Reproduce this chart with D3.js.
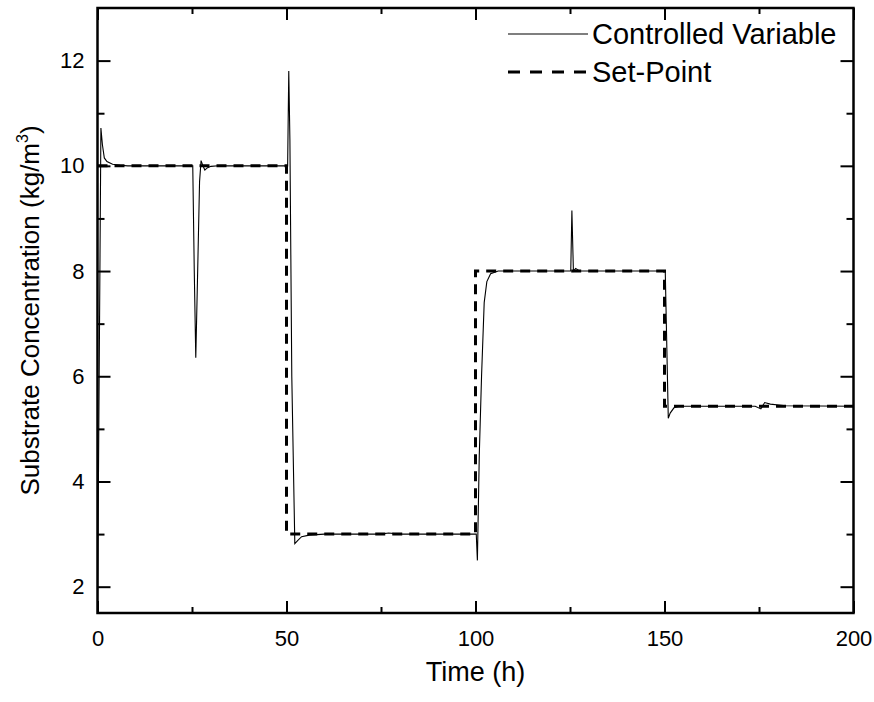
<!DOCTYPE html>
<html><head><meta charset="utf-8">
<script src="https://cdn.jsdelivr.net/npm/d3@7"></script>
<style>body{margin:0;background:#fff}svg{display:block}text{font-family:Arial,"Liberation Sans",sans-serif;fill:#000}</style>
</head><body><svg id="c" width="874" height="702"></svg>
<script>
const cvTime  = [0,0.9,1.3,1.8,2.5,4,6,8,25.2,25.6,26.0,26.5,27.0,27.4,27.9,28.4,29,30,32,50.3,50.6,50.9,51.4,52.2,53,54,56,60,75,77,80,100.2,100.5,101,101.6,102.3,103,104,106,125.2,125.5,125.9,126.5,127.5,150.2,151,151.5,152.5,154,174,175.5,176.5,178,182,200];
const cvValue = [1.5,10.72,10.4,10.15,10.08,10.03,10.01,10.0,10.0,8.0,6.35,8.0,9.7,10.1,10.0,9.92,9.96,9.99,10.0,10.0,11.8,10.5,6.0,2.82,2.88,2.95,2.98,3.0,3.0,3.02,3.0,3.0,2.5,4.5,6.0,7.4,7.8,7.95,8.0,8.0,9.15,8.0,8.05,8.0,8.0,5.2,5.3,5.4,5.43,5.43,5.38,5.5,5.47,5.44,5.43];
const spTime  = [0,50,100,150,200];
const spValue = [10,3,8,5.43,5.43];
const xTicks = [0,50,100,150,200];
const yTicks = [2,4,6,8,10,12];
const legendLabels = ["Controlled Variable","Set-Point"];

const svg = d3.select("#c");
const L=97.5, R=853.5, T=8, B=613;
const x = d3.scaleLinear().domain([0,200]).range([L,R]);
const y = d3.scaleLinear().domain([1.5,13]).range([B,T]);

svg.append("clipPath").attr("id","pc").append("rect")
  .attr("x",L).attr("y",T).attr("width",R-L).attr("height",B-T);

const g = svg.append("g").attr("clip-path","url(#pc)");
const sp = spTime.map((t,i)=>[t,spValue[i]]);
g.append("path").datum(sp)
  .attr("d", d3.line().x(d=>x(d[0])).y(d=>y(d[1])).curve(d3.curveStepAfter))
  .attr("fill","none").attr("stroke","#000").attr("stroke-width",3).attr("stroke-dasharray","10,7");
const cv = cvTime.map((t,i)=>[t,cvValue[i]]);
g.append("path").datum(cv)
  .attr("d", d3.line().x(d=>x(d[0])).y(d=>y(d[1])))
  .attr("fill","none").attr("stroke","#000").attr("stroke-width",1.1);

// axes
const xMinor = d3.range(25,200,50);
const yMinor = d3.range(3,13,2);
const ax = svg.append("g");
ax.append("g").attr("transform",`translate(0,${B})`)
  .call(d3.axisBottom(x).tickValues(xTicks).tickSize(-12).tickPadding(17).tickFormat(d3.format("d")));
ax.append("g").attr("transform",`translate(0,${B})`)
  .call(d3.axisBottom(x).tickValues(xMinor).tickSize(-6).tickFormat(""));
ax.append("g").attr("transform",`translate(0,${T})`)
  .call(d3.axisTop(x).tickValues(xTicks).tickSize(-12).tickFormat(""));
ax.append("g").attr("transform",`translate(0,${T})`)
  .call(d3.axisTop(x).tickValues(xMinor).tickSize(-6).tickFormat(""));
ax.append("g").attr("transform",`translate(${L},0)`)
  .call(d3.axisLeft(y).tickValues(yTicks).tickSize(-13).tickPadding(13).tickFormat(d3.format("d")));
ax.append("g").attr("transform",`translate(${L},0)`)
  .call(d3.axisLeft(y).tickValues(yMinor).tickSize(-7).tickFormat(""));
ax.append("g").attr("transform",`translate(${R},0)`)
  .call(d3.axisRight(y).tickValues(yTicks).tickSize(-13).tickFormat(""));
ax.append("g").attr("transform",`translate(${R},0)`)
  .call(d3.axisRight(y).tickValues(yMinor).tickSize(-7).tickFormat(""));
ax.selectAll(".domain").remove();
ax.selectAll("line").attr("stroke","#000").attr("stroke-width",2);
ax.selectAll("text").style("font-size","22px").style("font-family","Arial, 'Liberation Sans', sans-serif").attr("fill","#000");
svg.append("rect").attr("x",L).attr("y",T).attr("width",R-L).attr("height",B-T)
  .attr("fill","none").attr("stroke","#000").attr("stroke-width",2.5);

// titles
svg.append("text").attr("x",(L+R)/2).attr("y",681).attr("text-anchor","middle")
  .style("font-size","27px").text("Time (h)");
const yt = svg.append("text").attr("transform",`translate(39,${(T+B)/2}) rotate(-90)`)
  .attr("text-anchor","middle").style("font-size","26px");
yt.append("tspan").text("Substrate Concentration (kg/m");
yt.append("tspan").attr("dy",-11).style("font-size","16px").text("3");
yt.append("tspan").attr("dy",11).text(")");

// legend
const lg = svg.append("g");
lg.append("line").attr("x1",508).attr("x2",588).attr("y1",34).attr("y2",34).attr("stroke","#000").attr("stroke-width",1.1);
lg.append("line").attr("x1",508).attr("x2",588).attr("y1",72).attr("y2",72).attr("stroke","#000").attr("stroke-width",3).attr("stroke-dasharray","12,10");
lg.append("text").attr("x",592).attr("y",44).style("font-size","29px").text(legendLabels[0]);
lg.append("text").attr("x",592).attr("y",82).style("font-size","29px").text(legendLabels[1]);
</script></body></html>
